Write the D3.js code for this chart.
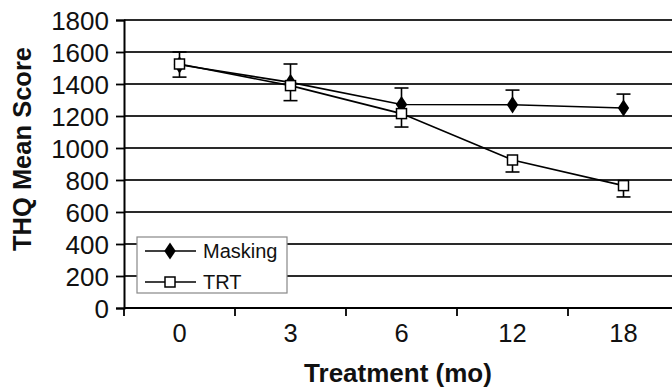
<!DOCTYPE html>
<html><head><meta charset="utf-8">
<script src="https://cdn.jsdelivr.net/npm/d3@7"></script>
<style>
html,body{margin:0;padding:0;background:#fff;}
svg{display:block;font-family:"Liberation Sans",Arial,sans-serif;}
</style></head>
<body><svg id="c" width="672" height="389"></svg>
<script>
const categories = ["0","3","6","12","18"];
const maskingMean = [1520, 1410, 1272, 1270, 1250];
const maskingErr  = [80, 115, 103, 92, 87];
const trtMean     = [1525, 1390, 1215, 925, 765];
const trtErr      = [82, 94, 84, 75, 71];
const yTicks = [0,200,400,600,800,1000,1200,1400,1600,1800];
const seriesNames = ["Masking","TRT"];

(function(){
const svg = d3.select("#c");
const mL = 124, mR = 679, mT = 20, mB = 308;
const x = d3.scaleBand().domain(categories).range([mL, mR]).paddingInner(0).paddingOuter(0);
const y = d3.scaleLinear().domain([0,1800]).range([mB, mT]);
const cx = c => x(c) + x.bandwidth()/2;

// gridlines
svg.append("g").selectAll("line").data(yTicks.filter(d=>d>0)).join("line")
  .attr("x1", mL).attr("x2", 672).attr("y1", d=>y(d)).attr("y2", d=>y(d))
  .attr("stroke", "#2a2a2a").attr("stroke-width", 1.8);

// y axis
const yAxis = svg.append("g").attr("transform", `translate(${mL},0)`)
  .call(d3.axisLeft(y).tickValues(yTicks).tickSize(8).tickPadding(7).tickFormat(d3.format("d")));
yAxis.attr("font-size", null).attr("font-family", null);
yAxis.select(".domain").attr("stroke","#000").attr("stroke-width",2);
yAxis.selectAll(".tick line").attr("stroke","#000").attr("stroke-width",1.8);
yAxis.selectAll("text").attr("font-size", 26).attr("fill","#111").attr("dy","0.35em");

// x axis with ticks at band boundaries
const xAxis = svg.append("g").attr("transform", `translate(0,${mB})`);
xAxis.append("line").attr("x1", mL).attr("x2", 672).attr("y1",0).attr("y2",0).attr("stroke","#000").attr("stroke-width",2);
xAxis.selectAll("line.tk").data(categories).join("line").attr("class","tk")
  .attr("x1", d=>x(d)).attr("x2", d=>x(d)).attr("y1",0).attr("y2",8)
  .attr("stroke","#000").attr("stroke-width",1.8);
xAxis.selectAll("text").data(categories).join("text")
  .attr("x", d=>cx(d)).attr("y", 34).attr("text-anchor","middle")
  .attr("font-size", 25.5).attr("fill","#111").text(d=>d);

// titles
svg.append("text").attr("x", 398).attr("y", 382).attr("text-anchor","middle")
  .attr("font-size", 26).attr("font-weight","bold").attr("fill","#111").text("Treatment (mo)");
svg.append("text").attr("transform","translate(31,149) rotate(-90)").attr("text-anchor","middle")
  .attr("font-size", 25.5).attr("font-weight","bold").attr("fill","#111").text("THQ Mean Score");

const line = d3.line().x((d,i)=>cx(categories[i])).y(d=>y(d));

// error bars: Masking up, TRT down
function errBars(means, errs, dir){
  const g = svg.append("g").attr("stroke","#000").attr("stroke-width",1.6);
  means.forEach((m,i)=>{
    const X = cx(categories[i]);
    const e = m + dir*errs[i];
    g.append("line").attr("x1",X).attr("x2",X).attr("y1",y(m)).attr("y2",y(e));
    g.append("line").attr("x1",X-7).attr("x2",X+7).attr("y1",y(e)).attr("y2",y(e));
  });
}
errBars(maskingMean, maskingErr, 1);
errBars(trtMean, trtErr, -1);

svg.append("path").datum(maskingMean).attr("d", line).attr("fill","none").attr("stroke","#000").attr("stroke-width",1.6);
svg.append("path").datum(trtMean).attr("d", line).attr("fill","none").attr("stroke","#000").attr("stroke-width",1.6);

const diamond = d3.symbol().type(d3.symbolDiamond).size(85);
const sq = 10;
svg.append("g").selectAll("path").data(maskingMean).join("path")
  .attr("d", diamond).attr("transform",(d,i)=>`translate(${cx(categories[i])},${y(d)}) scale(1.15,1)`).attr("fill","#000");
svg.append("g").selectAll("rect").data(trtMean).join("rect")
  .attr("x",(d,i)=>cx(categories[i])-sq/2).attr("y",d=>y(d)-sq/2).attr("width",sq).attr("height",sq)
  .attr("fill","#fff").attr("stroke","#000").attr("stroke-width",1.5);

// legend
const lg = svg.append("g");
lg.append("rect").attr("x",137).attr("y",237).attr("width",150).attr("height",56)
  .attr("fill","#fff").attr("stroke","#888").attr("stroke-width",1.2);
const ly = [251, 282];
seriesNames.forEach((s,i)=>{
  lg.append("line").attr("x1",145).attr("x2",196).attr("y1",ly[i]).attr("y2",ly[i]).attr("stroke","#000").attr("stroke-width",1.6);
  if(i===0){
    lg.append("path").attr("d", diamond).attr("transform",`translate(170,${ly[i]}) scale(1.15,1)`).attr("fill","#000");
  } else {
    lg.append("rect").attr("x",170-sq/2).attr("y",ly[i]-sq/2).attr("width",sq).attr("height",sq)
      .attr("fill","#fff").attr("stroke","#000").attr("stroke-width",1.5);
  }
  lg.append("text").attr("x",203).attr("y",ly[i]+7).attr("font-size",20).attr("fill","#111").text(s);
});
})();
</script></body></html>
